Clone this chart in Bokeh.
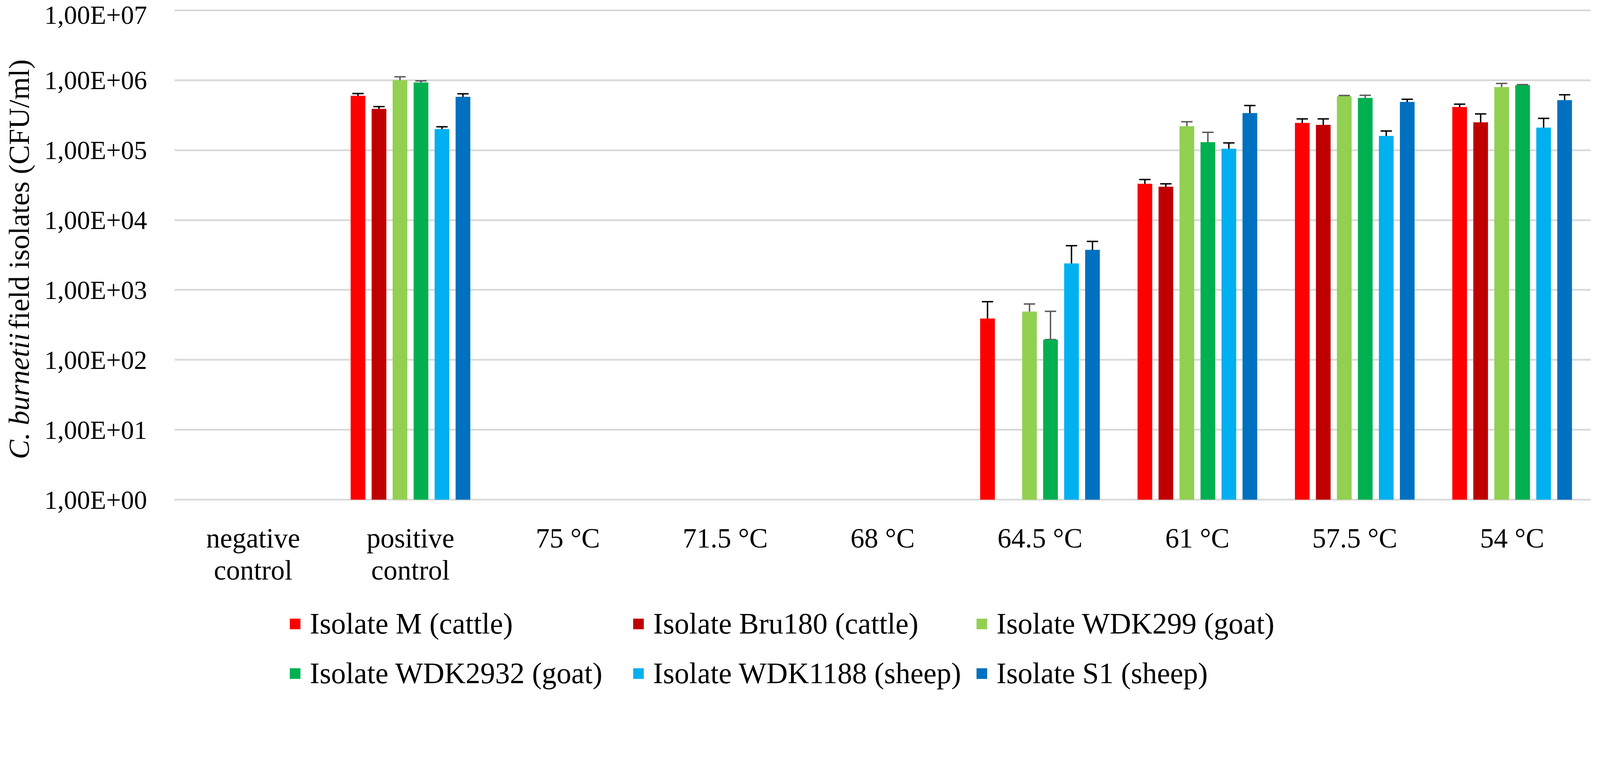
import math
from bokeh.plotting import figure
from bokeh.layouts import column, row
from bokeh.models import (Range1d, ColumnDataSource, FixedTicker, Whisker, TeeHead,
                          Legend, LegendItem, LinearAxis)
from bokeh.core.properties import value
from bokeh.transform import dodge
from bokeh.embed import file_html
from bokeh.resources import INLINE

categories = ["negative control", "positive control", "75 °C", "71.5 °C", "68 °C",
              "64.5 °C", "61 °C", "57.5 °C", "54 °C"]
label_line1 = ["negative", "positive", "75 °C", "71.5 °C", "68 °C",
               "64.5 °C", "61 °C", "57.5 °C", "54 °C"]
label_line2 = ["control", "control", "", "", "", "", "", "", ""]

series_names = ["Isolate M (cattle)", "Isolate Bru180 (cattle)", "Isolate WDK299 (goat)",
                "Isolate WDK2932 (goat)", "Isolate WDK1188 (sheep)", "Isolate S1 (sheep)"]
series_colors = ["#FF0000", "#C00000", "#92D050", "#00B050", "#00B0F0", "#0070C0"]
error_colors = ["#000000", "#000000", "#595959", "#595959", "#000000", "#000000"]

# CFU/ml per category (None = no growth)
isolate_m = [None, 6.0e5, None, None, None, 390, 33000, 245000, 415000]
isolate_m_err = [None, 45000, None, None, None, 290, 5000, 35000, 40000]
isolate_bru180 = [None, 3.9e5, None, None, None, None, 30000, 230000, 250000]
isolate_bru180_err = [None, 30000, None, None, None, None, 3000, 50000, 80000]
isolate_wdk299 = [None, 1.0e6, None, None, None, 490, 220000, 590000, 800000]
isolate_wdk299_err = [None, 120000, None, None, None, 140, 35000, 15000, 100000]
isolate_wdk2932 = [None, 9.3e5, None, None, None, 195, 130000, 560000, 850000]
isolate_wdk2932_err = [None, 50000, None, None, None, 300, 50000, 50000, 15000]
isolate_wdk1188 = [None, 2.0e5, None, None, None, 2400, 105000, 160000, 210000]
isolate_wdk1188_err = [None, 16000, None, None, None, 1900, 22000, 28000, 75000]
isolate_s1 = [None, 5.8e5, None, None, None, 3750, 340000, 490000, 520000]
isolate_s1_err = [None, 60000, None, None, None, 1200, 95000, 45000, 100000]

series_values = [isolate_m, isolate_bru180, isolate_wdk299, isolate_wdk2932, isolate_wdk1188, isolate_s1]
series_errors = [isolate_m_err, isolate_bru180_err, isolate_wdk299_err, isolate_wdk2932_err,
                 isolate_wdk1188_err, isolate_s1_err]

y_ticks = [1, 10, 100, 1000, 10000, 100000, 1000000, 10000000]
y_tick_labels = ["1,00E+00", "1,00E+01", "1,00E+02", "1,00E+03", "1,00E+04", "1,00E+05",
                 "1,00E+06", "1,00E+07"]

y_title_italic = "C. burnetii"
y_title_rest = "field isolates (CFU/ml)"

FONT = "Liberation Serif, Times New Roman, Tinos, DejaVu Serif, serif"

TOTAL_W = 4080
TOP_H = 1500
LEG_H = 269
TITLE_W = 110

# category centres on a numeric axis (one unit per category)
cat_pos = [i + 0.5 for i in range(len(categories))]

# ---------- main chart ----------
pad = 10 ** 0.0167
p = figure(x_range=Range1d(0, len(categories)),
           y_axis_type="log", y_range=Range1d(1 / pad, 1e7 * pad),
           width=TOTAL_W - TITLE_W, height=TOP_H, output_backend="svg", toolbar_location=None,
           min_border_left=318, min_border_right=8, min_border_top=23, min_border_bottom=215)

p.outline_line_color = None
p.xgrid.grid_line_color = None
p.ygrid.grid_line_color = "#D9D9D9"
p.ygrid.grid_line_width = 4.5
ticker = FixedTicker(ticks=y_ticks, minor_ticks=[])
p.yaxis.ticker = ticker
p.ygrid.ticker = ticker
p.yaxis.major_label_overrides = {t: lab for t, lab in zip(y_ticks, y_tick_labels)}

x_ticker = FixedTicker(ticks=cat_pos, minor_ticks=[])
p.xaxis.ticker = x_ticker
x_axis2 = LinearAxis(ticker=x_ticker)
p.add_layout(x_axis2, "below")

for ax in (p.xaxis[0], x_axis2, p.yaxis[0]):
    ax.axis_line_color = None
    ax.major_tick_line_color = None
    ax.minor_tick_line_color = None
    ax.major_label_text_font = FONT
    ax.major_label_text_color = "#000000"
p.yaxis.major_label_text_font_size = "67px"
p.yaxis.major_label_standoff = 64
p.xaxis[0].major_label_text_font_size = "71px"
p.xaxis[0].major_label_standoff = 50
p.xaxis[0].major_label_overrides = dict(zip(cat_pos, label_line1))
x_axis2.major_label_text_font_size = "71px"
x_axis2.major_label_standoff = -5
x_axis2.major_label_overrides = dict(zip(cat_pos, label_line2))

slot = 0.1334
bar_w = 0.0934
for i, (name, vals, errs, col, ecol) in enumerate(zip(series_names, series_values, series_errors,
                                                      series_colors, error_colors)):
    off = (i - 2.5) * slot
    xs, tops, ups, lows = [], [], [], []
    for xp, v, e in zip(cat_pos, vals, errs):
        if v is None:
            continue
        xs.append(xp)
        tops.append(v)
        ups.append(v + e)
        lows.append(v - e if v - e > 0 else v)
    src = ColumnDataSource(dict(pos=xs, top=tops, upper=ups, lower=lows))
    p.vbar(x=dodge("pos", off), top="top", bottom=1, width=bar_w,
           source=src, fill_color=col, line_color=None)
    w = Whisker(source=src, base=dodge("pos", off), upper="upper", lower="lower",
                line_color=ecol, line_width=3.6,
                upper_head=TeeHead(size=29, line_color=ecol, line_width=3.6),
                lower_head=TeeHead(size=29, line_color=ecol, line_width=3.6))
    p.add_layout(w)

# ---------- vertical axis title (mixed italic) ----------
t = figure(width=TITLE_W, height=TOP_H, x_range=Range1d(0, TITLE_W), y_range=Range1d(0, TOP_H),
           output_backend="svg", toolbar_location=None, x_axis_location=None, y_axis_location=None,
           min_border=0, outline_line_color=None)
t.grid.visible = False
t.text(x=[48.5], y=[512], text=[y_title_italic], angle=math.pi / 2, text_font=value(FONT),
       text_font_size="74.5px", text_font_style="italic", text_align="right",
       text_baseline="middle", text_color="#000000")
t.text(x=[48.5], y=[523], text=[y_title_rest], angle=math.pi / 2, text_font=value(FONT),
       text_font_size="74.5px", text_align="left", text_baseline="middle", text_color="#000000")

# ---------- legend ----------
lg = figure(width=TOTAL_W, height=LEG_H, x_range=Range1d(0, 1), y_range=Range1d(0, 1),
            output_backend="svg", toolbar_location=None, x_axis_location=None, y_axis_location=None,
            min_border=0, outline_line_color=None)
lg.grid.visible = False
items = []
for name, col in zip(series_names, series_colors):
    # swatch source placed outside the visible range; only the legend swatch shows
    r = lg.vbar(x=[-5], top=[-5], bottom=[-6], width=0.1, fill_color=col, line_color=None)
    items.append(LegendItem(label=name, renderers=[r]))
legend = Legend(items=items, orientation="horizontal", ncols=3, location=(738, -3),
                label_text_font=FONT, label_text_font_size="75.5px", label_text_color="#000000",
                glyph_width=34, glyph_height=34, label_standoff=21, label_width=795,
                label_height=98, spacing=29, padding=0, margin=0,
                border_line_color=None, background_fill_alpha=0)
lg.add_layout(legend)

layout = column(row(t, p, spacing=0), lg, spacing=0)
open("out.html", "w").write(file_html(layout, INLINE))
